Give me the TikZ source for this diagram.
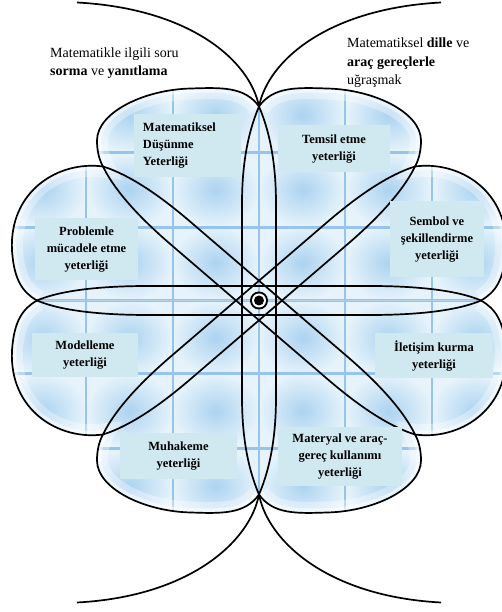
\documentclass[tikz,border=0pt]{standalone}
\usepackage{fontspec}
\setmainfont{Liberation Serif}

\definecolor{cellblue}{RGB}{172,211,240}
\definecolor{cellpale}{RGB}{230,243,251}
\definecolor{gridblue}{RGB}{150,196,236}
\definecolor{boxfill}{RGB}{208,233,240}

\tikzset{
  outline/.style={line width=1.7pt, black},
  gridline/.style={gridblue, line width=2.4pt},
  yetbox/.style={fill=boxfill, inner sep=2pt, align=center,
    font=\fontsize{12.5}{17}\selectfont\bfseries},
  toptext/.style={inner sep=0pt, align=left, anchor=north west,
    font=\fontsize{14}{18.5}\selectfont},
}

% two petals of the upper left quarter, from the top point to the left point
\newcommand\lobeline{(0,194) .. controls (-14,214) and (-38,213) .. (-68,212)
  .. controls (-115,211) and (-162,188) .. (-162,160)
  .. controls (-162,150) and (-160,141) .. (-156,134)
  .. controls (-200,140) and (-250,110) .. (-247,50)
  .. controls (-245,20) and (-236,8) .. (-222,0)}

\begin{document}
\begin{tikzpicture}[x=1pt,y=1pt]
\useasboundingbox (-259,-311.5) rectangle (242,300.5);

% top and bottom points of the flower, ends of the big arcs
\coordinate (m90) at (0,194);
\coordinate (m270) at (0,-194);
\coordinate (tl) at (-182,298);
\coordinate (tr) at (182,298);
\coordinate (bl) at (-182,-302);
\coordinate (br) at (182,-302);

% blue ground, one quarter at a time
\foreach \sx/\sy in {1/1,-1/1,1/-1,-1/-1}{
  \begin{scope}[xscale=\sx,yscale=\sy]
    \clip (0,0) -- \lobeline -- cycle;
    \fill[cellpale] (-260,0) rectangle (0,230);
    \foreach \cx in {0,-86,-173}
      \foreach \cy in {0,73,148}
        \shade[inner color=cellblue, outer color=cellpale] (\cx,\cy) rectangle ++(-87,75);
    \foreach \gx in {0,-86,-173}
      \draw[gridline] (\gx,0) -- (\gx,230);
    \foreach \gy in {0,73,148}
      \draw[gridline] (-260,\gy) -- (0,\gy);
    \draw[white, line width=22pt, opacity=.35] \lobeline;
    \draw[white, line width=9pt, opacity=.5] \lobeline;
  \end{scope}
}

% petals
\foreach \sx/\sy in {1/1,-1/1,1/-1,-1/-1}
  \draw[outline, xscale=\sx, yscale=\sy] \lobeline;

% long thin loops through the middle
\foreach \ang/\len/\wd in {90/194/17, 0/222/14.5, 139.34/205.7/15, 40.66/205.7/15}
  \foreach \s in {1,-1}
    \draw[outline, rotate=\ang, yscale=\s] (-\len,0) .. controls +(28,12) and +(-36,0) .. (-\len/2,\wd)
      -- (\len/2,\wd) .. controls +(36,0) and +(-28,12) .. (\len,0);

% big arcs at top and bottom
\draw[outline] (tl) .. controls +(113,-6) and +(-9,46) .. (m90);
\draw[outline] (tr) .. controls +(-113,-6) and +(9,46) .. (m90);
\draw[outline] (bl) .. controls +(113,6) and +(-9,-47) .. (m270);
\draw[outline] (br) .. controls +(-113,6) and +(9,-47) .. (m270);

% centre
\fill (0,0) circle (9pt);
\fill[white] (0,0) circle (7pt);
\fill (0,0) circle (5pt);

% competences
\node[yetbox, align=left, text width=89pt, inner xsep=9pt, minimum height=63pt] (dusunme) at (-71.5,154.5) {Matematiksel\\Düşünme\\Yeterliği};
\node[yetbox, minimum width=112pt, minimum height=47pt] (temsil) at (75,151.5) {Temsil etme\\yeterliği};
\node[yetbox, minimum width=103pt, minimum height=62pt] (problem) at (-172.5,51) {Problemle\\mücadele etme\\yeterliği};
\node[yetbox, minimum width=94pt, minimum height=76pt] (sembol) at (178,61) {Sembol ve\\şekillendirme\\yeterliği};
\node[yetbox, minimum width=106pt, minimum height=44pt] (model) at (-174,-55) {Modelleme\\yeterliği};
\node[yetbox, minimum width=118pt, minimum height=45pt] (iletisim) at (175,-55.5) {İletişim kurma\\yeterliği};
\node[yetbox, minimum width=117pt, minimum height=45pt] (muhakeme) at (-80.5,-155.5) {Muhakeme\\yeterliği};
\node[yetbox, minimum width=124pt, minimum height=58pt] (materyal) at (81,-156) {Materyal ve araç-\\gereç kullanımı\\yeterliği};

% texts at the top
\node[toptext] (soru) at (-209,253) {Matematikle ilgili soru\\\textbf{sorma} ve \textbf{yanıtlama}};
\node[toptext] (dille) at (88,262.5) {Matematiksel \textbf{dille} ve\\\textbf{araç gereçlerle}\\uğraşmak};
\end{tikzpicture}
\end{document}
